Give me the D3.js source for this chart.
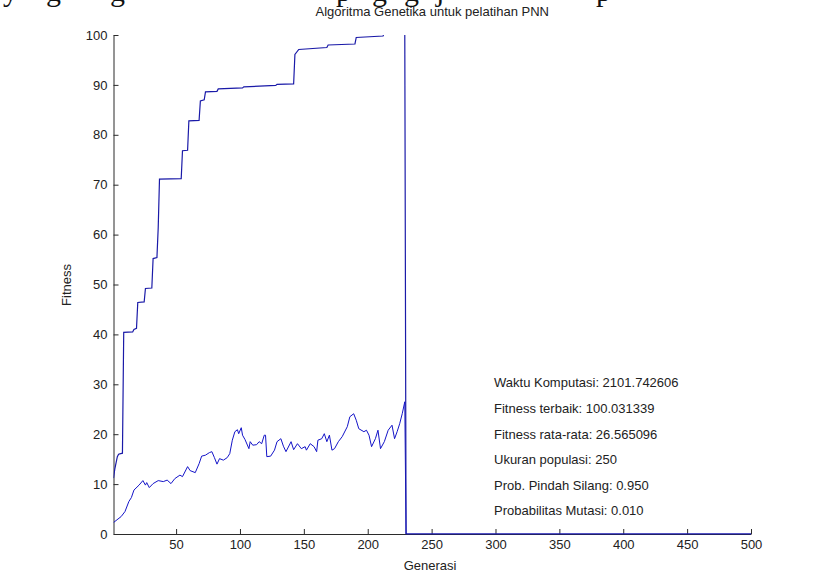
<!DOCTYPE html>
<html>
<head>
<meta charset="utf-8">
<script src="https://cdn.jsdelivr.net/npm/d3@7"></script>
<style>
  html, body { margin: 0; padding: 0; background: #fff; }
  svg { display: block; font-family: "Liberation Sans", Arial, sans-serif; }
  .axis path, .axis line { stroke: #2b2b2b; }
  .axis text { fill: #222; font-size: 13px; font-family: "Liberation Sans", Arial, sans-serif; }
  .lbl { fill: #222; font-size: 13px; }
</style>
</head>
<body>
<svg id="chart" width="825" height="577"></svg>
<script>
// --- Data ---
// best fitness per generation (vertices of the step curve), zero after the run stopped
const bestGen = [1, 2, 4, 5, 8, 9, 16, 17, 19, 20, 25, 26, 31, 32, 35, 36, 37, 54, 55, 59, 60, 68, 69, 72, 73, 82, 83, 102, 103, 128, 129, 142, 143, 146, 168, 169, 190, 191, 212, 213, 229, 230, 500];
const bestVal = [11.2, 13, 15.5, 16, 16.2, 40.4, 40.5, 41, 41.2, 46.4, 46.5, 49.2, 49.3, 55.2, 55.4, 61.4, 71.1, 71.2, 76.8, 76.9, 82.8, 82.9, 86.8, 87, 88.6, 88.7, 89.2, 89.4, 89.6, 89.9, 90.1, 90.2, 96.1, 97.1, 97.5, 98, 98.2, 99.5, 99.8, 100.4, 100.4, 0, 0];

// average fitness per generation
const avgGen = [1, 7, 10, 13, 15, 17, 21, 24, 26, 27, 29, 32, 36, 40, 43, 46, 49, 53, 55, 59, 61, 65, 68, 70, 73, 76, 78, 80, 82, 84, 87, 90, 92, 94, 96, 98, 99, 101, 102, 104, 107, 108, 110, 113, 115, 117, 119, 120, 121, 124, 127, 129, 132, 134, 136, 140, 142, 145, 148, 151, 152, 155, 158, 160, 161, 164, 166, 168, 170, 172, 174, 177, 180, 184, 186, 189, 191, 193, 197, 199, 201, 203, 206, 208, 210, 213, 216, 219, 221, 223, 225, 227, 229, 230, 500];
const avgVal = [2.3, 3.5, 4.5, 6.5, 7.3, 8.8, 9.8, 10.7, 9.8, 10.3, 9.3, 10.1, 10.7, 10.5, 10.8, 10.1, 11.1, 11.8, 11.5, 13.5, 12.7, 12.3, 14.1, 15.6, 15.8, 16.3, 16.5, 15.3, 14.0, 15.1, 14.8, 15.3, 16.1, 18.8, 20.5, 20.9, 20.1, 21.3, 19.8, 18.9, 17.1, 18.5, 17.8, 17.9, 18.5, 18.1, 19.8, 19.8, 15.5, 15.6, 16.8, 18.5, 19.1, 17.6, 16.5, 18.5, 16.9, 18.1, 17.1, 17.5, 16.8, 18.1, 17.5, 16.5, 18.8, 19.1, 20.1, 18.5, 19.8, 16.8, 17.1, 18.5, 19.5, 21.5, 23.5, 24.1, 22.8, 21.1, 20.5, 20.8, 19.8, 17.5, 19.1, 20.8, 17.1, 18.5, 20.8, 21.8, 19.1, 20.5, 22.1, 24.1, 26.5, 0, 0];

const xTicks = [50, 100, 150, 200, 250, 300, 350, 400, 450, 500];
const yTicks = [0, 10, 20, 30, 40, 50, 60, 70, 80, 90, 100];

const titleText = "Algoritma Genetika untuk pelatihan PNN";
const xLabel = "Generasi";
const yLabel = "Fitness";
const infoLines = [
  "Waktu Komputasi: 2101.742606",
  "Fitness terbaik: 100.031339",
  "Fitness rata-rata: 26.565096",
  "Ukuran populasi: 250",
  "Prob. Pindah Silang: 0.950",
  "Probabilitas Mutasi: 0.010"
];

// glyph descenders of the page text cut off above the figure
const pageGlyphs = ["y", "g", "g", "p", "g", "g", "j", "p"];
const pageGlyphX = [3, 46, 110, 336, 372, 404, 436, 596];

// --- Setup ---
const svg = d3.select("#chart");
const plotLeft = 113.5, plotRight = 751, plotTop = 35, plotBottom = 534;

const x = d3.scaleLinear().domain([1, 500]).range([plotLeft, plotRight]);
const y = d3.scaleLinear().domain([0, 100]).range([plotBottom, plotTop]);

// page text remnants
svg.append("g")
  .selectAll("text")
  .data(pageGlyphs)
  .join("text")
  .attr("x", (d, i) => pageGlyphX[i])
  .attr("y", 1)
  .attr("font-family", "Liberation Serif, Times New Roman, serif")
  .attr("font-size", 30)
  .attr("fill", "#111")
  .text(d => d);

// --- Clip to the axes box ---
svg.append("clipPath").attr("id", "clip")
  .append("rect")
  .attr("x", plotLeft).attr("y", plotTop)
  .attr("width", plotRight - plotLeft).attr("height", plotBottom - plotTop + 0.5);

// --- Axes ---
svg.append("g")
  .attr("class", "axis")
  .attr("transform", `translate(${plotLeft},0)`)
  .call(d3.axisLeft(y).tickValues(yTicks).tickSize(-5).tickSizeOuter(0).tickPadding(6));

svg.append("g")
  .attr("class", "axis")
  .attr("transform", `translate(0,${plotBottom})`)
  .call(d3.axisBottom(x).tickValues(xTicks).tickSize(-5).tickSizeOuter(0).tickPadding(6));

// --- Lines ---
const plot = svg.append("g").attr("clip-path", "url(#clip)");

const bestPts = bestGen.map((g, i) => [g, bestVal[i]]);
const avgPts = avgGen.map((g, i) => [g, avgVal[i]]);

const line = d3.line().x(d => x(d[0])).y(d => y(d[1]));

plot.append("path")
  .datum(avgPts)
  .attr("d", line)
  .attr("fill", "none")
  .attr("stroke", "#1414c8")
  .attr("stroke-width", 1);

plot.append("path")
  .datum(bestPts)
  .attr("d", line)
  .attr("fill", "none")
  .attr("stroke", "#1a1aa8")
  .attr("stroke-width", 1.2);

// --- Labels ---
svg.append("text").attr("class", "lbl")
  .attr("x", (plotLeft + plotRight) / 2).attr("y", 13)
  .attr("text-anchor", "middle").attr("dominant-baseline", "middle")
  .text(titleText);

svg.append("text").attr("class", "lbl")
  .attr("x", 430).attr("y", 567)
  .attr("text-anchor", "middle").attr("dominant-baseline", "middle")
  .text(xLabel);

svg.append("text").attr("class", "lbl")
  .attr("transform", "translate(68,285) rotate(-90)")
  .attr("text-anchor", "middle").attr("dominant-baseline", "middle")
  .text(yLabel);

// --- Run summary text ---
svg.append("g")
  .selectAll("text")
  .data(infoLines)
  .join("text")
  .attr("class", "lbl")
  .attr("x", 494)
  .attr("y", (d, i) => 384 + i * 25.6)
  .attr("dominant-baseline", "middle")
  .text(d => d);
</script>
</body>
</html>
